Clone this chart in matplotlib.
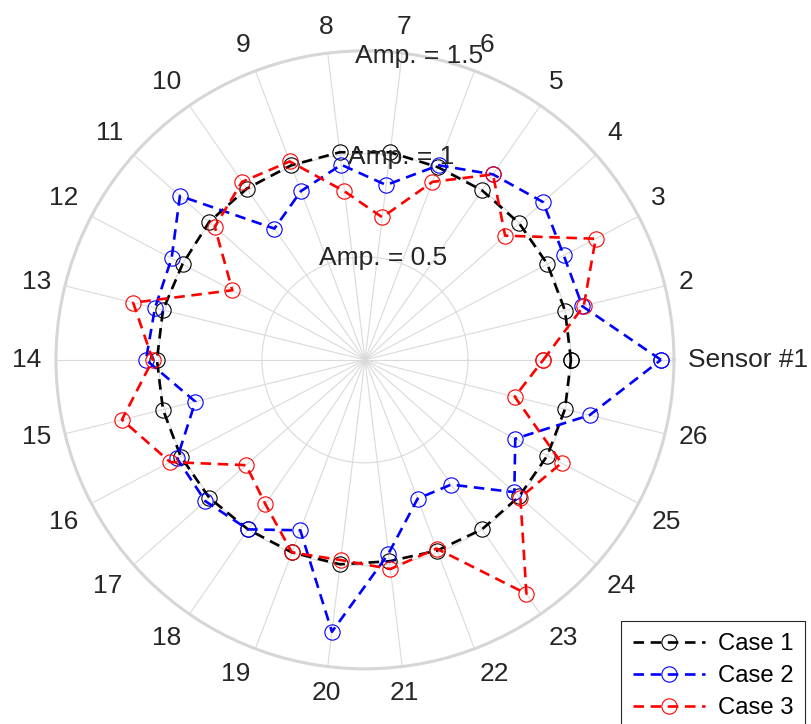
import numpy as np
import matplotlib
matplotlib.use("Agg")
import matplotlib.pyplot as plt

plt.rcParams['font.family'] = ['Liberation Sans', 'DejaVu Sans']

# sensor ring: 26 sensors evenly spaced, sensor #1 at 0 deg
sensor_labels = ['Sensor #1'] + [str(k) for k in range(2, 27)]
case_names = ['Case 1', 'Case 2', 'Case 3']
case_colors = ['k', 'b', 'r']

case1 = [1.00, 1.00, 1.00, 1.00, 1.00, 1.00, 1.015, 1.015, 1.01, 1.01, 1.01, 1.00, 1.01,
         1.01, 1.01, 1.01, 1.01, 1.00, 1.00, 1.00, 0.985, 0.99, 1.00, 1.00, 1.00, 1.00]
case2 = [1.437, 1.087, 1.09, 1.155, 1.094, 1.01, 0.855, 0.954, 0.876, 0.774, 1.20, 1.06, 1.05,
         1.063, 0.848, 1.03, 1.035, 1.00, 0.885, 1.33, 0.948, 0.721, 0.736, 0.969, 0.824, 1.123]
case3 = [0.866, 1.094, 1.265, 0.909, 1.094, 0.924, 0.697, 0.824, 1.03, 1.05, 0.974, 0.727, 1.159,
         1.03, 1.215, 1.068, 0.771, 0.851, 1.00, 0.979, 1.023, 0.98, 1.38, 1.008, 1.078, 0.749]

amp_ticks = [0.5, 1.0, 1.5]
amp_labels = ['Amp. = 0.5', 'Amp. = 1', 'Amp. = 1.5']

n = len(sensor_labels)
theta = np.deg2rad(np.arange(n) * 360.0 / n)
text_color = '#262626'
grid_color = '#dadada'
fs = 19

fig = plt.figure(figsize=(8.11, 7.24), dpi=100)
ax = fig.add_axes([0.069, 0.076, 0.762, 0.854], projection='polar')

handles = []
for vals, name, col in zip([case1, case2, case3], case_names, case_colors):
    r = np.append(vals, vals[0])
    t = np.append(theta, theta[0])
    ln, = ax.plot(t, r, color=col, lw=1.9, dashes=(4, 2.5), marker='o', ms=11,
                  mfc='none', mec=col, mew=0.8, label=name, zorder=3)
    handles.append(ln)

ax.set_ylim(0, 1.5)
ax.set_yticks(amp_ticks)
ax.set_yticklabels([])
ax.set_xticks(theta)
ax.set_xticklabels([])
ax.tick_params(length=0)
ax.grid(True, color=grid_color, lw=0.8)
ax.spines['polar'].set_color('#d6d6d6')
ax.spines['polar'].set_linewidth(2.2)

# sensor labels just outside the ring, aligned by direction
for ang, lab in zip(theta, sensor_labels):
    c, s = np.cos(ang), np.sin(ang)
    ha = 'left' if c > 0.3 else ('right' if c < -0.3 else 'center')
    va = 'bottom' if s > 0.3 else ('top' if s < -0.3 else 'center')
    ax.text(ang, 1.57, lab, ha=ha, va=va, fontsize=fs, color=text_color)

# amplitude labels along the 80 deg ray
for rv, lab in zip(amp_ticks, amp_labels):
    ax.text(np.deg2rad(80), rv, lab, ha='center', va='center', fontsize=fs,
            color=text_color, zorder=5)

leg = fig.legend(handles=handles, loc='upper left', bbox_to_anchor=(621 / 811, 1 - 621 / 724),
                 fontsize=17.2, handlelength=3.0, handletextpad=0.55, borderpad=0.5,
                 labelspacing=0.42, borderaxespad=0, fancybox=False, framealpha=1,
                 numpoints=1)
leg.get_frame().set_edgecolor('#262626')
leg.get_frame().set_linewidth(0.8)

fig.savefig('out.png', dpi=100)
